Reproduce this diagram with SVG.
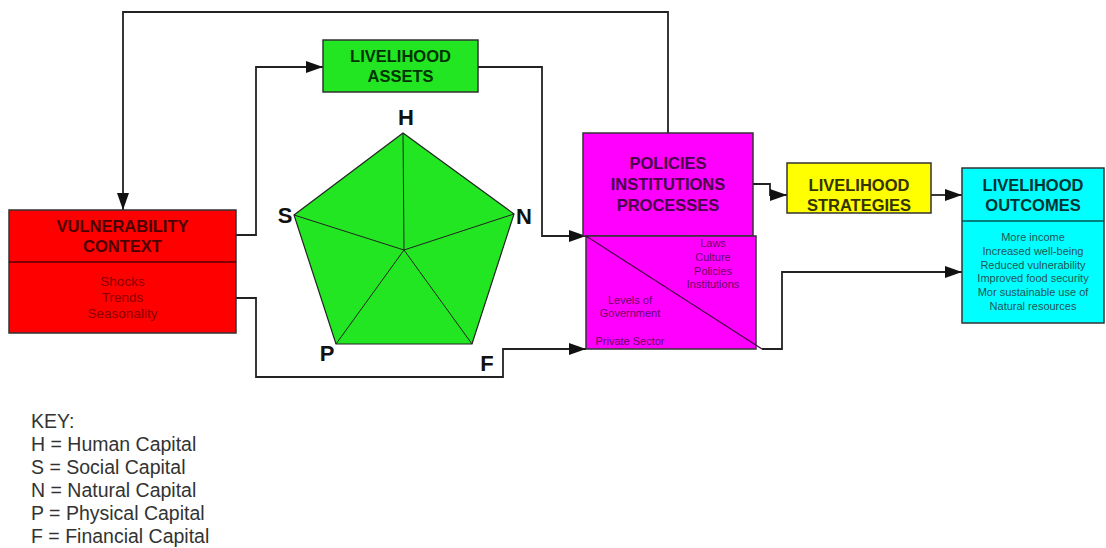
<svg xmlns="http://www.w3.org/2000/svg" width="1106" height="548" viewBox="0 0 1106 548">
<defs>
<marker id="arr" markerUnits="userSpaceOnUse" markerWidth="17" markerHeight="12" refX="17" refY="6" orient="auto">
<path d="M0,0 L17,6 L0,12 Z" fill="#111"/>
</marker>
</defs>
<style>
.box{stroke:#333;stroke-width:1.5}
.t{font-family:"Liberation Sans",Arial,sans-serif;font-weight:bold;font-size:16.5px;text-anchor:middle}
.b{font-family:"Liberation Sans",Arial,sans-serif;text-anchor:middle}
.con{fill:none;stroke:#222;stroke-width:1.8}
.pl{font-family:"Liberation Sans",Arial,sans-serif;font-weight:bold;font-size:22px;text-anchor:middle;fill:#111}
.key{font-family:"Liberation Sans",Arial,sans-serif;font-size:19.5px;fill:#333}
</style>
<rect width="1106" height="548" fill="#fff"/>
<g id="connectors">
<path class="con" d="M236,235 H256 V67 H323" marker-end="url(#arr)"/>
<path class="con" d="M478,67 H542 V236 H586" marker-end="url(#arr)"/>
<path class="con" d="M236,298 H256 V377 H503 V349 H586" marker-end="url(#arr)"/>
<path class="con" d="M668,133 V12 H123 V210" marker-end="url(#arr)"/>
<path class="con" d="M753,184 H770 V195 H787" marker-end="url(#arr)"/>
<path class="con" d="M931,195 H962" marker-end="url(#arr)"/>
<path class="con" d="M762,349 H782 V272 H962" marker-end="url(#arr)"/>
</g>
<g id="vulnerability">
<rect class="box" x="9" y="210" width="227" height="123" fill="#ff0000"/>
<line x1="9" y1="262" x2="236" y2="262" stroke="#550000" stroke-width="1.5"/>
<text class="t" x="122.5" y="232" fill="#4a0000">VULNERABILITY</text>
<text class="t" x="122.5" y="252" fill="#4a0000">CONTEXT</text>
<text class="b" font-size="13.5" fill="#880000"><tspan x="122.5" y="286">Shocks</tspan><tspan x="122.5" y="302">Trends</tspan><tspan x="122.5" y="318">Seasonality</tspan></text>
</g>
<g id="assets">
<rect class="box" x="323" y="40" width="155" height="52" fill="#22e622"/>
<text class="t" x="400.5" y="62" fill="#003300">LIVELIHOOD</text>
<text class="t" x="400.5" y="82" fill="#003300">ASSETS</text>
</g>
<g id="pentagon">
<polygon points="403,133 514,214 472,344 336,344 294,215" fill="#22e622" stroke="#222" stroke-width="1.2"/>
<path d="M404,250 L403,133 M404,250 L514,214 M404,250 L472,344 M404,250 L336,344 M404,250 L294,215" stroke="#222" stroke-width="1" fill="none"/>
<text class="pl" x="406" y="125">H</text>
<text class="pl" x="285" y="223">S</text>
<text class="pl" x="524" y="224">N</text>
<text class="pl" x="327" y="361">P</text>
<text class="pl" x="487" y="371">F</text>
</g>
<g id="policies">
<rect class="box" x="583" y="133" width="170" height="103" fill="#ff00ff"/>
<rect class="box" x="586" y="236" width="170" height="113" fill="#ff00ff"/>
<line x1="586" y1="236" x2="762" y2="349" stroke="#440044" stroke-width="1.2"/>
<text class="t" x="668" y="169" fill="#4a004a">POLICIES</text>
<text class="t" x="668" y="190" fill="#4a004a">INSTITUTIONS</text>
<text class="t" x="668" y="211" fill="#4a004a">PROCESSES</text>
<text class="b" font-size="11" fill="#6a006a"><tspan x="713" y="247">Laws</tspan><tspan x="713" y="261">Culture</tspan><tspan x="713" y="274.5">Policies</tspan><tspan x="713" y="288">Institutions</tspan></text>
<text class="b" font-size="11" fill="#6a006a"><tspan x="630" y="304">Levels of</tspan><tspan x="630" y="317">Government</tspan><tspan x="630" y="345">Private Sector</tspan></text>
</g>
<g id="strategies">
<rect class="box" x="787" y="163" width="144" height="50" fill="#ffff00"/>
<text class="t" x="859" y="191" fill="#333300">LIVELIHOOD</text>
<text class="t" x="859" y="211" fill="#333300">STRATEGIES</text>
</g>
<g id="outcomes">
<rect class="box" x="962" y="168" width="142" height="155" fill="#00ffff"/>
<line x1="962" y1="221" x2="1104" y2="221" stroke="#005555" stroke-width="1.5"/>
<text class="t" x="1033" y="191" fill="#003333">LIVELIHOOD</text>
<text class="t" x="1033" y="211" fill="#003333">OUTCOMES</text>
<text class="b" font-size="11" fill="#225555"><tspan x="1033" y="241">More income</tspan><tspan x="1033" y="255">Increased well-being</tspan><tspan x="1033" y="268.5">Reduced vulnerability</tspan><tspan x="1033" y="282">Improved food security</tspan><tspan x="1033" y="296">Mor sustainable use of</tspan><tspan x="1033" y="310">Natural resources</tspan></text>
</g>
<g id="key">
<text class="key"><tspan x="31" y="428">KEY:</tspan><tspan x="31" y="451">H = Human Capital</tspan><tspan x="31" y="474">S = Social Capital</tspan><tspan x="31" y="497">N = Natural Capital</tspan><tspan x="31" y="520">P = Physical Capital</tspan><tspan x="31" y="543">F = Financial Capital</tspan></text>
</g>
</svg>
